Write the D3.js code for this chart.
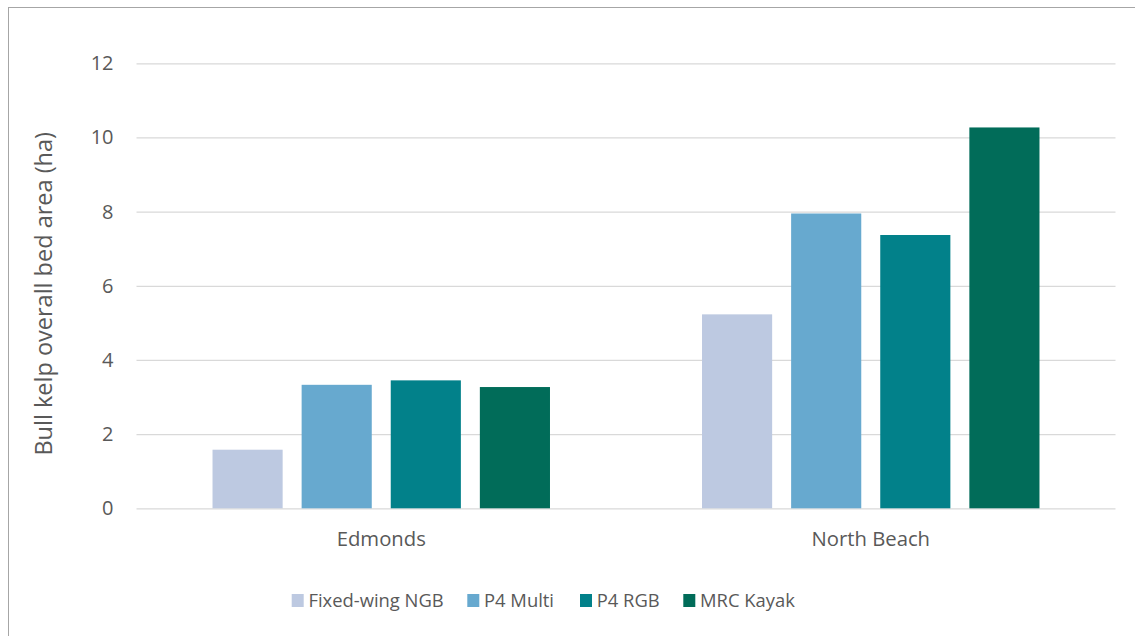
<!DOCTYPE html>
<html>
<head>
<meta charset="utf-8">
<script src="https://cdn.jsdelivr.net/npm/d3@7"></script>
<style>
  html, body { margin: 0; padding: 0; background: #fff; }
  svg { display: block; }
  text { font-family: "Open Sans", "Noto Sans", sans-serif; fill: #595959; }
</style>
</head>
<body>
<svg id="chart" width="1135" height="636"></svg>
<script>
// Bull kelp bed area by site and survey method
const sites = ["Edmonds", "North Beach"];
const methods = ["Fixed-wing NGB", "P4 Multi", "P4 RGB", "MRC Kayak"];
const fixedWing = [1.58, 5.23];
const p4Multi = [3.33, 7.95];
const p4Rgb = [3.45, 7.37];
const mrcKayak = [3.27, 10.27];
const yTicks = [0, 2, 4, 6, 8, 10, 12];
const colors = ["#BDC9E1", "#67A9CF", "#02818A", "#016C59"];
const yTitle = "Bull kelp overall bed area (ha)";

const seriesValues = [fixedWing, p4Multi, p4Rgb, mrcKayak];
const rows = sites.map((s, i) => ({
  site: s,
  values: methods.map((m, j) => ({ method: m, value: seriesValues[j][i] }))
}));

const svg = d3.select("#chart");
const W = 1135, H = 636;
const plot = { left: 136.5, right: 1115.5, top: 63.3, bottom: 508.3 };

// Outer frame (runs off the right and bottom edges)
svg.append("rect")
  .attr("x", 8.5).attr("y", 7.5)
  .attr("width", W + 20).attr("height", H + 20)
  .attr("fill", "#fff").attr("stroke", "#a6a6a6").attr("stroke-width", 1);

const x0 = d3.scaleBand().domain(sites).range([plot.left, plot.right]).padding(0);
const catW = x0.bandwidth();
const x1 = d3.scaleBand().domain(methods)
  .range([catW * 0.1553, catW * (1 - 0.1553)])
  .paddingInner(0.213).paddingOuter(0);
const y = d3.scaleLinear().domain([0, 12]).range([plot.bottom, plot.top]);
const color = d3.scaleOrdinal().domain(methods).range(colors);

// Gridlines and value labels
const yAxis = d3.axisLeft(y).tickValues(yTicks).tickSize(-(plot.right - plot.left)).tickPadding(23);
const gy = svg.append("g").attr("transform", `translate(${plot.left},0)`).call(yAxis);
gy.select(".domain").remove();
gy.selectAll(".tick line").attr("stroke", "#d9d9d9").attr("stroke-width", 1.3);
gy.selectAll(".tick text")
  .attr("font-size", 20)
  .attr("fill", "#595959")
  .style("font-family", '"Open Sans", sans-serif');

// Bars
const groups = svg.append("g").selectAll("g").data(rows).join("g")
  .attr("transform", d => `translate(${x0(d.site)},0)`);
groups.selectAll("rect").data(d => d.values).join("rect")
  .attr("x", d => x1(d.method))
  .attr("y", d => y(d.value))
  .attr("width", x1.bandwidth())
  .attr("height", d => y(0) - y(d.value))
  .attr("fill", d => color(d.method));

// Site labels
const xAxis = d3.axisBottom(x0).tickSize(0);
const gx = svg.append("g").attr("transform", `translate(0,${plot.bottom})`).call(xAxis);
gx.select(".domain").remove();
gx.selectAll(".tick text")
  .attr("y", 37.7)
  .attr("dy", null)
  .attr("font-size", 20.3)
  .attr("fill", "#595959")
  .style("font-family", '"Open Sans", sans-serif');

// Y axis title
svg.append("text")
  .attr("transform", `translate(52,${(plot.top + plot.bottom) / 2 + 8}) rotate(-90)`)
  .attr("text-anchor", "middle")
  .attr("font-size", 23.5)
  .text(yTitle);

// Legend
const legendX = [291.7, 467.3, 580, 683.3];
const legend = svg.append("g").selectAll("g").data(methods).join("g")
  .attr("transform", (d, i) => `translate(${legendX[i]},594)`);
legend.append("rect").attr("width", 12).attr("height", 13).attr("fill", d => color(d));
legend.append("text")
  .attr("x", 16.7).attr("y", 12.5)
  .attr("font-size", 18.4)
  .text(d => d);
</script>
</body>
</html>
